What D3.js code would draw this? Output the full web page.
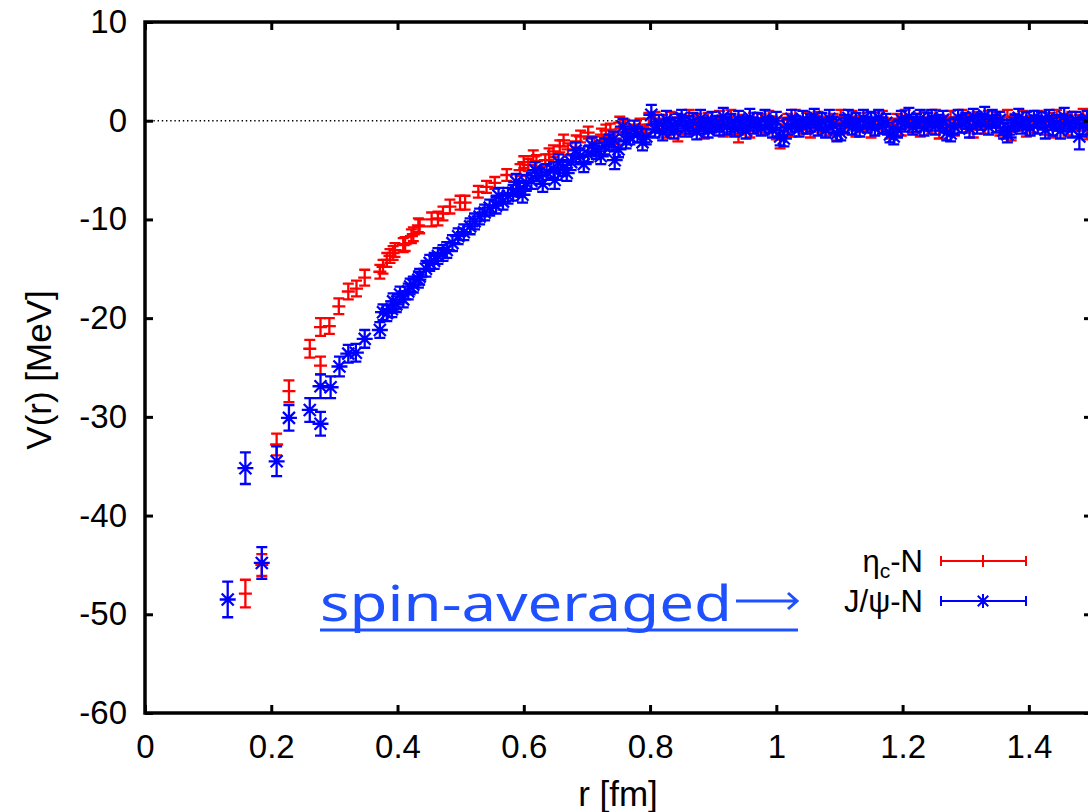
<!DOCTYPE html>
<html>
<head>
<meta charset="utf-8">
<script src="https://cdn.jsdelivr.net/npm/d3@7"></script>
<style>
  body { margin: 0; background: #fff; }
  text { font-family: "Liberation Sans", Arial, sans-serif; }
</style>
</head>
<body>
<svg width="1088" height="812"></svg>
<script>
// tick labels
const xTicks = [0, 0.2, 0.4, 0.6, 0.8, 1, 1.2, 1.4];
const yTicks = [10, 0, -10, -20, -30, -40, -50, -60];

// short distance part: [r (fm), V (MeV), error]
const etaNear = [
  [0.159, -47.9, 1.4], [0.185, -45.0, 1.1], [0.2085, -32.8, 1.1], [0.228, -27.4, 1.1],
  [0.261, -23.1, 0.9], [0.278, -24.8, 0.9], [0.278, -20.9, 0.9], [0.292, -20.8, 0.8],
  [0.307, -18.8, 0.8], [0.322, -17.3, 0.8], [0.335, -17.0, 0.8], [0.348, -15.9, 0.8],
  [0.372, -15.3, 0.7], [0.377, -14.8, 0.7], [0.383, -14.1, 0.7], [0.388, -13.7, 0.7],
  [0.393, -13.4, 0.7], [0.396, -13.1, 0.7], [0.409, -12.6, 0.7], [0.412, -12.5, 0.7],
  [0.422, -11.7, 0.7], [0.425, -11.5, 0.7], [0.433, -10.6, 0.7], [0.435, -10.7, 0.7],
  [0.454, -10.0, 0.7], [0.464, -9.9, 0.7], [0.472, -9.4, 0.7], [0.483, -8.7, 0.7],
  [0.499, -8.3, 0.7], [0.507, -8.3, 0.7], [0.528, -7.2, 0.6], [0.541, -6.7, 0.6],
  [0.554, -6.3, 0.6], [0.573, -5.5, 0.6], [0.594, -5.0, 0.6], [0.600, -4.2, 0.6],
  [0.607, -4.5, 0.6], [0.615, -3.6, 0.6], [0.620, -4.1, 0.6], [0.634, -4.0, 0.6],
  [0.640, -3.4, 0.6], [0.647, -3.1, 0.6], [0.657, -2.6, 0.6], [0.663, -2.0, 0.6],
  [0.670, -2.9, 0.6], [0.683, -2.1, 0.6], [0.690, -1.6, 0.6], [0.702, -1.2, 0.6],
  [0.712, -2.2, 0.6], [0.723, -1.4, 0.6], [0.730, -1.0, 0.6], [0.737, -0.9, 0.6],
  [0.745, -1.8, 0.6], [0.752, -0.2, 0.6], [0.760, -0.5, 0.6], [0.770, -1.0, 0.6],
  [0.784, -0.4, 0.6], [0.790, -1.2, 0.6], [0.798, 0.2, 0.6]
];
const jpsiNear = [
  [0.131, -48.5, 1.8], [0.159, -35.2, 1.6], [0.185, -44.8, 1.6], [0.2085, -34.5, 1.5],
  [0.228, -30.1, 1.3], [0.261, -29.3, 1.2], [0.278, -30.7, 1.2], [0.278, -26.9, 1.2],
  [0.294, -27.0, 1.1], [0.308, -24.9, 1.0], [0.322, -23.6, 0.9], [0.334, -23.5, 0.9],
  [0.348, -22.1, 0.9], [0.372, -21.2, 0.8], [0.377, -19.4, 0.8], [0.383, -19.5, 0.8],
  [0.391, -19.1, 0.8], [0.393, -18.3, 0.8], [0.398, -18.6, 0.8], [0.404, -17.6, 0.8],
  [0.409, -18.1, 0.8], [0.417, -17.3, 0.8], [0.420, -16.8, 0.8], [0.425, -16.6, 0.8],
  [0.433, -16.1, 0.8], [0.435, -15.8, 0.8], [0.445, -15.0, 0.8], [0.451, -14.4, 0.8],
  [0.458, -14.2, 0.8], [0.464, -13.7, 0.8], [0.472, -13.4, 0.8], [0.478, -13.1, 0.8],
  [0.487, -12.4, 0.8], [0.496, -11.7, 0.8], [0.505, -11.3, 0.8], [0.515, -10.7, 0.8],
  [0.522, -10.2, 0.8], [0.530, -9.7, 0.8], [0.538, -9.3, 0.8], [0.546, -8.8, 0.8],
  [0.556, -8.6, 0.8], [0.560, -7.6, 0.8], [0.567, -8.2, 0.8], [0.575, -7.6, 0.8],
  [0.583, -7.3, 0.8], [0.588, -6.2, 0.8], [0.594, -6.9, 0.8], [0.598, -7.5, 0.8],
  [0.604, -6.3, 0.8], [0.612, -6.1, 0.8], [0.618, -5.0, 0.8], [0.625, -5.6, 0.8],
  [0.630, -6.4, 0.8], [0.636, -5.2, 0.8], [0.647, -5.0, 0.8], [0.649, -6.0, 0.9],
  [0.655, -4.2, 0.8], [0.662, -4.8, 0.8], [0.668, -5.3, 0.8], [0.675, -4.2, 0.8],
  [0.682, -3.0, 0.8], [0.689, -3.6, 0.8], [0.695, -4.4, 0.8], [0.702, -3.4, 0.8],
  [0.708, -2.5, 0.8], [0.715, -3.1, 0.8], [0.722, -3.6, 0.8], [0.728, -2.6, 0.8],
  [0.735, -2.2, 0.8], [0.742, -1.9, 0.8], [0.744, -4.0, 0.9], [0.750, -2.9, 0.8],
  [0.757, -0.6, 0.8], [0.762, -2.0, 0.8], [0.768, -1.6, 0.8], [0.775, -0.8, 0.8],
  [0.780, -1.4, 0.8], [0.788, -2.2, 0.8], [0.794, -1.6, 0.8], [0.802, 0.6, 1.0]
];

// long distance part, shared r values
const rTail = [
  0.808, 0.814, 0.820, 0.826, 0.832, 0.838, 0.844, 0.850, 0.856, 0.862,
  0.868, 0.874, 0.880, 0.886, 0.892, 0.898, 0.904, 0.910, 0.916, 0.922,
  0.928, 0.934, 0.940, 0.946, 0.952, 0.958, 0.964, 0.970, 0.976, 0.982,
  0.988, 0.994, 1.000, 1.006, 1.012, 1.018, 1.024, 1.030, 1.036, 1.042,
  1.048, 1.054, 1.060, 1.066, 1.072, 1.078, 1.084, 1.090, 1.096, 1.102,
  1.108, 1.114, 1.120, 1.126, 1.132, 1.138, 1.144, 1.150, 1.156, 1.162,
  1.168, 1.174, 1.180, 1.186, 1.192, 1.198, 1.204, 1.210, 1.216, 1.222,
  1.228, 1.234, 1.240, 1.246, 1.252, 1.258, 1.264, 1.270, 1.276, 1.282,
  1.288, 1.294, 1.300, 1.306, 1.312, 1.318, 1.324, 1.330, 1.336, 1.342,
  1.348, 1.354, 1.360, 1.366, 1.372, 1.378, 1.384, 1.390, 1.396, 1.402,
  1.408, 1.414, 1.420, 1.426, 1.432, 1.438, 1.444, 1.450, 1.456, 1.462,
  1.468, 1.474, 1.480, 1.486, 1.492, 1.498
];
const etaTailV = [
  0.2, -0.5, -0.1, -0.9, 0.3, -0.4, -1.3, 0.0, -0.6, 0.4,
  -0.7, 0.1, -0.3, -1.0, 0.2, -0.5, -0.2, 0.3, -0.8, -0.1,
  0.4, -0.6, -1.4, 0.0, -0.3, -0.9, 0.2, -0.5, 0.1, -0.7,
  0.3, -0.2, -1.1, -1.9, -0.4, 0.1, -0.8, 0.4, -0.3, -0.6,
  0.2, -0.9, -0.1, 0.3, -0.5, -0.2, -0.7, 0.0, -1.1, 0.4,
  -0.6, -0.2, 0.3, -0.8, -0.1, -0.4, 0.2, -0.9, 0.1, -0.3,
  0.3, -0.6, -1.0, -0.4, 0.0, -0.7, 0.4, -0.2, -0.5, 0.1,
  -0.8, 0.2, -0.3, -0.6, 0.4, -1.0, -0.1, -0.4, 0.3, -0.7,
  -0.2, 0.4, -0.5, 0.1, -0.9, 0.2, -0.3, -0.6, 0.3, -0.1,
  0.2, -0.7, -0.2, 0.4, -1.1, 0.0, -0.4, 0.3, -0.8, -0.1,
  -0.5, 0.3, -0.2, -0.6, 0.1, -0.9, 0.4, -0.3, 0.0, -0.7,
  0.2, -0.4, -0.1, 0.5, -1.0, -0.2
];
const etaTailErr = [
  0.7, 0.6, 0.7, 0.8, 0.6, 0.7, 0.8, 0.6, 0.7, 0.7,
  0.7, 0.6, 0.7, 0.8, 0.6, 0.7, 0.6, 0.7, 0.8, 0.6,
  0.7, 0.7, 0.8, 0.6, 0.7, 0.8, 0.6, 0.7, 0.6, 0.7,
  0.7, 0.6, 0.8, 0.9, 0.7, 0.6, 0.8, 0.7, 0.6, 0.7,
  0.6, 0.8, 0.7, 0.6, 0.7, 0.6, 0.8, 0.7, 0.9, 0.7,
  0.7, 0.6, 0.7, 0.8, 0.6, 0.7, 0.6, 0.8, 0.7, 0.6,
  0.7, 0.7, 0.8, 0.6, 0.7, 0.8, 0.7, 0.6, 0.7, 0.6,
  0.8, 0.7, 0.6, 0.7, 0.7, 0.8, 0.6, 0.7, 0.7, 0.8,
  0.6, 0.7, 0.7, 0.6, 0.8, 0.7, 0.6, 0.7, 0.7, 0.6,
  0.7, 0.8, 0.6, 0.7, 0.9, 0.7, 0.6, 0.7, 0.8, 0.6,
  0.7, 0.7, 0.6, 0.8, 0.7, 0.8, 0.7, 0.6, 0.7, 0.8,
  0.7, 0.6, 0.7, 0.7, 0.9, 0.7
];
const jpsiTailV = [
  -0.9, -0.3, -1.2, 0.1, -0.6, -1.0, -0.2, 0.3, -0.8, -0.4,
  -0.1, -1.1, 0.2, -0.5, -0.9, 0.0, -0.3, -0.7, 0.4, -0.6,
  -0.2, -0.8, 0.1, -0.4, -1.0, 0.3, -0.5, -0.1, -0.7, 0.2,
  -0.4, -0.9, 0.0, -1.6, -1.8, -0.6, 0.2, -0.3, -0.8, 0.1,
  -0.5, -0.2, 0.4, -0.7, -0.1, -0.9, 0.2, -0.4, -1.3, -1.2,
  -0.3, 0.3, -0.6, -0.1, -0.8, 0.2, -0.4, 0.0, -0.7, 0.3,
  -0.5, -0.2, -1.4, -1.6, -0.9, 0.1, -0.3, 0.4, -0.6, -0.2,
  0.2, -0.7, -0.1, 0.3, -0.5, -0.2, 0.1, -1.2, -1.3, -0.6,
  0.3, -0.3, 0.0, -0.8, 0.4, -0.4, -0.1, 0.5, -0.6, 0.2,
  -0.3, 0.1, -1.0, -1.4, -0.8, -0.2, 0.3, -0.5, 0.0, -0.7,
  0.2, -0.4, 0.1, -0.9, 0.3, -0.6, -0.2, -1.0, 0.4, -0.3,
  -0.8, 0.1, -1.6, -0.5, 0.2, -0.4
];
const jpsiTailErr = [
  0.8, 0.9, 0.8, 0.9, 0.8, 0.8, 0.9, 0.8, 0.8, 0.9,
  0.9, 0.8, 0.9, 0.8, 0.8, 0.9, 0.8, 0.8, 0.9, 0.8,
  0.9, 0.8, 0.9, 0.8, 0.8, 0.9, 0.8, 0.9, 0.8, 0.9,
  0.8, 0.8, 0.9, 0.9, 0.8, 0.8, 0.9, 0.8, 0.8, 0.9,
  0.8, 0.9, 0.8, 0.8, 0.9, 0.8, 0.9, 0.8, 0.8, 0.8,
  0.9, 0.8, 0.8, 0.9, 0.8, 0.9, 0.8, 0.9, 0.8, 0.8,
  0.8, 0.9, 0.8, 0.8, 0.8, 0.9, 0.8, 0.9, 0.8, 0.9,
  0.9, 0.8, 0.9, 0.8, 0.9, 0.8, 0.9, 0.8, 0.8, 0.8,
  0.8, 0.9, 0.8, 0.9, 0.8, 0.9, 0.8, 0.9, 0.8, 0.9,
  0.9, 0.8, 0.8, 0.8, 0.9, 0.8, 0.9, 0.8, 0.9, 0.8,
  0.8, 0.9, 0.8, 0.9, 0.8, 0.9, 0.8, 0.8, 0.9, 0.8,
  0.9, 0.8, 1.3, 0.9, 0.8, 0.9
];

const red = "#ff0000", blue = "#0000ff", textBlue = "#1e50ff";

let svg = d3.select("svg"),
    width = +svg.attr("width"),
    height = +svg.attr("height");

let x = d3.scaleLinear().domain([0, 1.5]).range([145, 1092]),
    y = d3.scaleLinear().domain([-60, 10]).range([713, 22]);

let etaData = etaNear.concat(rTail.map((r, i) => [r, etaTailV[i], etaTailErr[i]]));
let jpsiData = jpsiNear.concat(rTail.map((r, i) => [r, jpsiTailV[i], jpsiTailErr[i]]));

svg.append("clipPath").attr("id", "plotclip")
  .append("rect")
    .attr("x", x(0)).attr("y", y(10))
    .attr("width", x(1.5) - x(0)).attr("height", y(-60) - y(10));

// zero line
svg.append("line")
    .attr("x1", x(0)).attr("x2", x(1.5))
    .attr("y1", y(0)).attr("y2", y(0))
    .attr("stroke", "#000")
    .attr("stroke-width", 1.4)
    .attr("stroke-dasharray", "1.4,2.8");

function errPath(px, lo, hi, cap) {
  return `M${px},${lo}V${hi}M${px - cap},${lo}H${px + cap}M${px - cap},${hi}H${px + cap}`;
}
function plusPath(px, py, s) {
  return `M${px - s},${py}H${px + s}M${px},${py - s}V${py + s}`;
}
function starPath(px, py, s) {
  let d = s * 0.75;
  return plusPath(px, py, s) + `M${px - d},${py - d}L${px + d},${py + d}M${px - d},${py + d}L${px + d},${py - d}`;
}

let plot = svg.append("g").attr("clip-path", "url(#plotclip)");

plot.append("g")
  .selectAll("path")
  .data(etaData)
  .join("path")
    .attr("fill", "none")
    .attr("stroke", red)
    .attr("stroke-width", 2.3)
    .attr("d", d => errPath(x(d[0]), y(d[1] - d[2]), y(d[1] + d[2]), 5.5) +
                    plusPath(x(d[0]), y(d[1]), 6.5));

plot.append("g")
  .selectAll("path")
  .data(jpsiData)
  .join("path")
    .attr("fill", "none")
    .attr("stroke", blue)
    .attr("stroke-width", 2.3)
    .attr("d", d => errPath(x(d[0]), y(d[1] - d[2]), y(d[1] + d[2]), 5.5) +
                    starPath(x(d[0]), y(d[1]), 8));

// axes with inward ticks
let fmt = d => String(d);
let axB = svg.append("g").attr("transform", `translate(0,${y(-60)})`)
  .call(d3.axisBottom(x).tickValues(xTicks).tickFormat(fmt).tickSize(-8).tickPadding(22));
let axT = svg.append("g").attr("transform", `translate(0,${y(10)})`)
  .call(d3.axisTop(x).tickValues(xTicks).tickFormat("").tickSize(-8));
let axL = svg.append("g").attr("transform", `translate(${x(0)},0)`)
  .call(d3.axisLeft(y).tickValues(yTicks).tickFormat(fmt).tickSize(-8).tickPadding(18));
let axR = svg.append("g").attr("transform", `translate(${x(1.5)},0)`)
  .call(d3.axisRight(y).tickValues(yTicks).tickFormat("").tickSize(-8));

[axB, axT, axL, axR].forEach(g => {
  g.select(".domain").remove();
  g.selectAll(".tick line").attr("stroke", "#000").attr("stroke-width", 3);
  g.selectAll(".tick text")
    .attr("fill", "#000")
    .style("font-family", "'Liberation Sans', Arial, sans-serif")
    .style("font-size", "33px");
});

svg.append("rect")
    .attr("x", x(0)).attr("y", y(10))
    .attr("width", x(1.5) - x(0)).attr("height", y(-60) - y(10))
    .attr("fill", "none")
    .attr("stroke", "#000")
    .attr("stroke-width", 3.5);

// axis titles
svg.append("text")
    .attr("x", 618).attr("y", 806)
    .attr("text-anchor", "middle")
    .style("font-size", "35px")
    .text("r [fm]");

svg.append("text")
    .attr("transform", "translate(51,370) rotate(-90)")
    .attr("text-anchor", "middle")
    .style("font-size", "35px")
    .text("V(r) [MeV]");

// legend
let legend = [
  {label: "η", sub: "c", rest: "-N", color: red, sym: plusPath, size: 6, y: 561},
  {label: "J/ψ-N", sub: "", rest: "", color: blue, sym: starPath, size: 7, y: 601}
];
legend.forEach(l => {
  let t = svg.append("text")
      .attr("x", 923).attr("y", l.y + 11)
      .attr("text-anchor", "end")
      .style("font-size", "31px");
  t.append("tspan").text(l.label);
  if (l.sub) {
    t.append("tspan").attr("dy", 6).style("font-size", "21px").text(l.sub);
    t.append("tspan").attr("dy", -6).text(l.rest);
  }
  svg.append("path")
      .attr("fill", "none")
      .attr("stroke", l.color)
      .attr("stroke-width", 2)
      .attr("d", `M941,${l.y}H1026M941,${l.y - 5}V${l.y + 5}M1026,${l.y - 5}V${l.y + 5}` +
                 l.sym(983, l.y, l.size));
});

// annotation
svg.append("text")
    .attr("x", 320).attr("y", 621)
    .attr("textLength", 412)
    .attr("lengthAdjust", "spacingAndGlyphs")
    .attr("fill", textBlue)
    .style("font-family", "'Noto Sans', 'DejaVu Sans', sans-serif")
    .style("font-size", "50px")
    .text("spin-averaged");
svg.append("path")
    .attr("fill", "none")
    .attr("stroke", textBlue)
    .attr("stroke-width", 3)
    .attr("d", "M736,601H797M788,593L797,601L788,609M320,630H798");
</script>
</body>
</html>
